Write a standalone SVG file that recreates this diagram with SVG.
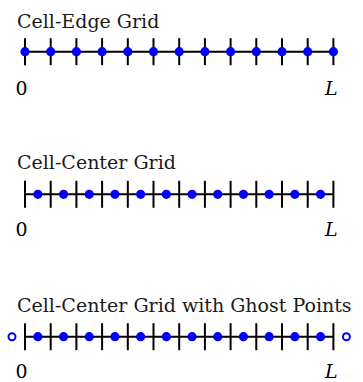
<svg xmlns="http://www.w3.org/2000/svg" width="363" height="382" viewBox="0 0 363 382">
<defs>
<style>
.t{font-family:"DejaVu Serif","Liberation Serif",serif;font-size:19px;fill:#1a1a1a}
.lab{font-family:"DejaVu Serif","Liberation Serif",serif;font-size:19px;fill:#000}
.it{font-style:italic}
.ln{stroke:#000;stroke-width:2;fill:none}
.pt{fill:#0000ff}
.gh{fill:#fff;stroke:#0000ff;stroke-width:2}
</style>
<g id="tk"><line x1="0" y1="-13.5" x2="0" y2="13.5" class="ln"/></g>
</defs>
<rect width="363" height="382" fill="#fff"/>

<g id="edge-grid">
<text class="t" x="17" y="27.7">Cell-Edge Grid</text>
<line class="ln" x1="25" y1="51.7" x2="333.4" y2="51.7"/>
<g transform="translate(0,51.7)">
<use href="#tk" x="25"/><use href="#tk" x="50.7"/><use href="#tk" x="76.4"/><use href="#tk" x="102.1"/><use href="#tk" x="127.8"/><use href="#tk" x="153.5"/><use href="#tk" x="179.2"/><use href="#tk" x="204.9"/><use href="#tk" x="230.6"/><use href="#tk" x="256.3"/><use href="#tk" x="282"/><use href="#tk" x="307.7"/><use href="#tk" x="333.4"/>
<circle class="pt" cx="25" r="4.6"/><circle class="pt" cx="50.7" r="4.6"/><circle class="pt" cx="76.4" r="4.6"/><circle class="pt" cx="102.1" r="4.6"/><circle class="pt" cx="127.8" r="4.6"/><circle class="pt" cx="153.5" r="4.6"/><circle class="pt" cx="179.2" r="4.6"/><circle class="pt" cx="204.9" r="4.6"/><circle class="pt" cx="230.6" r="4.6"/><circle class="pt" cx="256.3" r="4.6"/><circle class="pt" cx="282" r="4.6"/><circle class="pt" cx="307.7" r="4.6"/><circle class="pt" cx="333.4" r="4.6"/>
</g>
<text class="lab" x="15.5" y="95">0</text>
<text class="lab it" x="325" y="94.5">L</text>
</g>

<g id="center-grid">
<text class="t" x="17" y="169">Cell-Center Grid</text>
<line class="ln" x1="25" y1="194.3" x2="333.4" y2="194.3"/>
<g transform="translate(0,194.3)">
<use href="#tk" x="25"/><use href="#tk" x="50.7"/><use href="#tk" x="76.4"/><use href="#tk" x="102.1"/><use href="#tk" x="127.8"/><use href="#tk" x="153.5"/><use href="#tk" x="179.2"/><use href="#tk" x="204.9"/><use href="#tk" x="230.6"/><use href="#tk" x="256.3"/><use href="#tk" x="282"/><use href="#tk" x="307.7"/><use href="#tk" x="333.4"/>
<circle class="pt" cx="37.85" r="4.6"/><circle class="pt" cx="63.55" r="4.6"/><circle class="pt" cx="89.25" r="4.6"/><circle class="pt" cx="114.95" r="4.6"/><circle class="pt" cx="140.65" r="4.6"/><circle class="pt" cx="166.35" r="4.6"/><circle class="pt" cx="192.05" r="4.6"/><circle class="pt" cx="217.75" r="4.6"/><circle class="pt" cx="243.45" r="4.6"/><circle class="pt" cx="269.15" r="4.6"/><circle class="pt" cx="294.85" r="4.6"/><circle class="pt" cx="320.55" r="4.6"/>
</g>
<text class="lab" x="15.5" y="235.5">0</text>
<text class="lab it" x="325" y="235.5">L</text>
</g>

<g id="ghost-grid">
<text class="t" x="17" y="311.7">Cell-Center Grid with Ghost Points</text>
<line class="ln" x1="25" y1="336.7" x2="333.4" y2="336.7"/>
<g transform="translate(0,336.7)">
<use href="#tk" x="25"/><use href="#tk" x="50.7"/><use href="#tk" x="76.4"/><use href="#tk" x="102.1"/><use href="#tk" x="127.8"/><use href="#tk" x="153.5"/><use href="#tk" x="179.2"/><use href="#tk" x="204.9"/><use href="#tk" x="230.6"/><use href="#tk" x="256.3"/><use href="#tk" x="282"/><use href="#tk" x="307.7"/><use href="#tk" x="333.4"/>
<circle class="pt" cx="37.85" r="4.6"/><circle class="pt" cx="63.55" r="4.6"/><circle class="pt" cx="89.25" r="4.6"/><circle class="pt" cx="114.95" r="4.6"/><circle class="pt" cx="140.65" r="4.6"/><circle class="pt" cx="166.35" r="4.6"/><circle class="pt" cx="192.05" r="4.6"/><circle class="pt" cx="217.75" r="4.6"/><circle class="pt" cx="243.45" r="4.6"/><circle class="pt" cx="269.15" r="4.6"/><circle class="pt" cx="294.85" r="4.6"/><circle class="pt" cx="320.55" r="4.6"/>
<circle class="gh" cx="12" r="3.5"/><circle class="gh" cx="346.4" r="3.5"/>
</g>
<text class="lab" x="15.5" y="378">0</text>
<text class="lab it" x="325" y="378">L</text>
</g>
</svg>
